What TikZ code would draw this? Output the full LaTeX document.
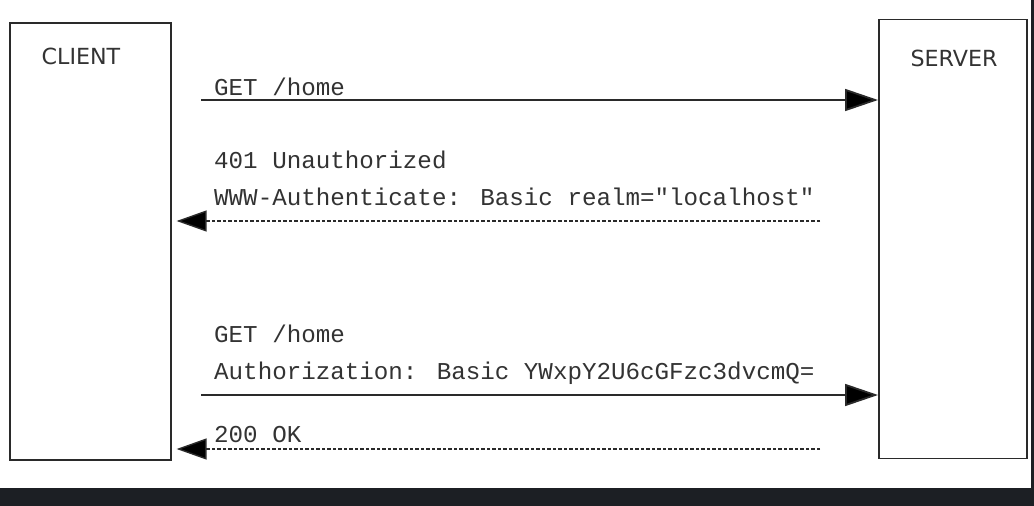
\documentclass[tikz,border=0pt]{standalone}
\usepackage{fontspec}
\newfontfamily\monof{Liberation Mono}
\newfontfamily\sansf{DejaVu Sans}
\usetikzlibrary{arrows.meta}
\definecolor{band}{HTML}{1C1F24}
\definecolor{ink}{HTML}{2A2A2A}
\definecolor{txt}{HTML}{333333}
\tikzset{
  party/.style={draw=ink, line width=1.6pt, anchor=north west, inner sep=0pt},
  plabel/.style={font=\sansf\fontsize{22.2}{26}\selectfont, text=txt, anchor=base, inner sep=0pt},
  msg/.style={font=\monof\fontsize{24.2}{28}\selectfont, text=txt, anchor=base west, inner sep=0pt},
  req/.style={draw=ink, line width=1.8pt, -{Triangle[length=33pt,width=22pt,fill=black]}},
  resp/.style={draw=ink, line width=1.4pt, dash pattern=on 3.5pt off 2pt, -{Triangle[length=30pt,width=21pt,fill=black]}, shorten >=5pt}
}
\begin{document}
\begin{tikzpicture}[x=1pt,y=-1pt]
\useasboundingbox (0,0) rectangle (1034,506);
\fill[white] (0,0) rectangle (1034,506);
\fill[band] (0,488) rectangle (1034,506);
\fill[band] (1031,0) rectangle (1034,506);

\node[party, minimum width=161pt, minimum height=437pt] (client) at (9,22) {};
\node[party, minimum width=148pt, minimum height=439pt] (server) at (878,18.5) {};
\node[plabel] (clientlbl) at (81,64) {CLIENT};
\node[plabel] (serverlbl) at (954,66) {SERVER};

\node[msg] (m1) at (214,95) {GET /home};
\node[msg] (m2a) at (214,168) {401 Unauthorized};
\node[msg] (m2b) at (214,205) {WWW-Authenticate: Basic realm="localhost"};
\node[msg] (m3a) at (214,342) {GET /home};
\node[msg] (m3b) at (214,379) {Authorization: Basic YWxpY2U6cGFzc3dvcmQ=};
\node[msg] (m4) at (214,442) {200 OK};

\coordinate (s1) at (201,100);
\coordinate (s2) at (820,221);
\coordinate (s3) at (201,395);
\coordinate (s4) at (820,449);

\draw[req] (s1) -- (s1 -| server.west);
\draw[resp] (s2) -- (s2 -| client.east);
\draw[req] (s3) -- (s3 -| server.west);
\draw[resp] (s4) -- (s4 -| client.east);
\end{tikzpicture}
\end{document}
